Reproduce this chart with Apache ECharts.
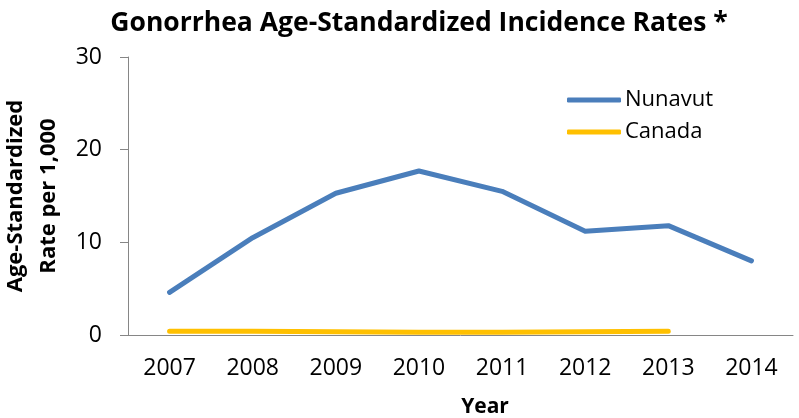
<!DOCTYPE html>
<html lang="en">
<head>
    <meta charset="UTF-8">
    <title>Gonorrhea Age-Standardized Incidence Rates</title>
    <script src="https://cdn.jsdelivr.net/npm/echarts@6.0.0/dist/echarts.min.js"></script>
    <style>
        body, html {
            margin: 0;
            padding: 0;
            width: 100%;
            height: 100%;
            overflow: hidden;
            background-color: #fff;
        }
        #container {
            width: 799px;
            height: 418px;
        }
    </style>
</head>
<body>
    <div id="container"></div>

    <script>
        // data
        var years = ['2007', '2008', '2009', '2010', '2011', '2012', '2013', '2014'];
        var nunavut = [4.6, 10.5, 15.3, 17.7, 15.5, 11.2, 11.8, 8.0];
        var canada = [0.4, 0.4, 0.35, 0.3, 0.3, 0.35, 0.4, null];

        var font = 'Open Sans';
        var axisGray = '#868686';

        var option = {
            backgroundColor: '#fff',
            animation: false,
            title: [{
                text: 'Gonorrhea Age-Standardized Incidence Rates *',
                left: 414,
                top: 5,
                textAlign: 'center',
                textStyle: { fontFamily: font, fontWeight: 'bold', fontSize: 26.5, color: '#000' }
            }, {
                text: 'Year',
                left: 480,
                top: 392,
                textAlign: 'center',
                textStyle: { fontFamily: font, fontWeight: 'bold', fontSize: 21, color: '#000' }
            }],
            legend: {
                orient: 'vertical',
                left: 562,
                top: 84,
                itemWidth: 54,
                itemHeight: 5,
                itemGap: 10,
                icon: 'roundRect',
                textStyle: { fontFamily: font, fontSize: 22, color: '#000', padding: [0, 0, 0, -1] },
                data: ['Nunavut', 'Canada']
            },
            grid: { left: 128, right: 6, top: 57, bottom: 83, outerBoundsMode: 'none' },
            xAxis: {
                type: 'category',
                data: years,
                boundaryGap: true,
                axisLine: { lineStyle: { color: axisGray, width: 1 } },
                axisTick: { length: 8, lineStyle: { color: axisGray } },
                axisLabel: { margin: 22, fontFamily: font, fontSize: 23, color: '#000' }
            },
            yAxis: {
                type: 'value',
                min: 0,
                max: 30,
                interval: 10,
                name: 'Age-Standardized\nRate per 1,000',
                nameLocation: 'middle',
                nameGap: 57,
                nameTextStyle: { fontFamily: font, fontWeight: 'bold', fontSize: 22, color: '#000', lineHeight: 33 },
                axisLine: { show: true, lineStyle: { color: axisGray, width: 1 } },
                axisTick: { show: true, length: 8, lineStyle: { color: axisGray } },
                splitLine: { show: false },
                axisLabel: { margin: 26, fontFamily: font, fontSize: 23, color: '#000' }
            },
            series: [{
                name: 'Nunavut',
                type: 'line',
                data: nunavut,
                symbol: 'none',
                color: '#4a7ebb',
                lineStyle: { width: 5, cap: 'round', join: 'round' }
            }, {
                name: 'Canada',
                type: 'line',
                data: canada,
                symbol: 'none',
                color: '#ffc000',
                lineStyle: { width: 5, cap: 'round', join: 'round' }
            }]
        };

        var chart = echarts.init(document.getElementById('container'));
        chart.setOption(option);
    </script>
</body>
</html>
